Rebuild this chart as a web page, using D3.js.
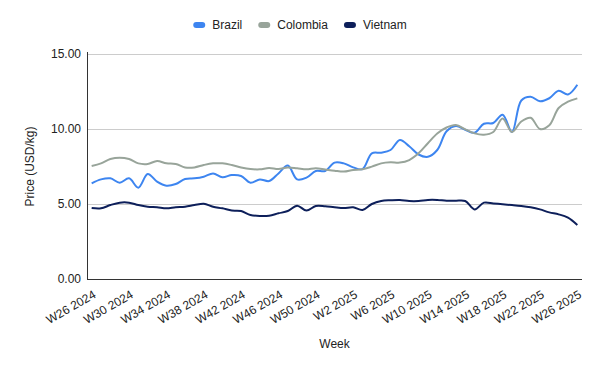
<!DOCTYPE html>
<html>
<head>
<meta charset="utf-8">
<script src="https://cdn.jsdelivr.net/npm/d3@7"></script>
<style>
  body { margin: 0; background: #fff; }
  text { font-family: "Liberation Sans", Arial, sans-serif; }
</style>
</head>
<body>
<div id="chart"></div>
<script>
// weeks W26 2024 .. W26 2025
var weeks = [];
for (var wk = 26; wk <= 52; wk++) weeks.push("W" + wk + " 2024");
for (var wk2 = 1; wk2 <= 26; wk2++) weeks.push("W" + wk2 + " 2025");

var seriesNames = ["Brazil", "Colombia", "Vietnam"];

var brazil = [6.38, 6.64, 6.71, 6.42, 6.71, 6.09, 7.0, 6.49, 6.22, 6.33,
    6.67, 6.71, 6.82, 7.04, 6.78, 6.93, 6.87, 6.42, 6.64, 6.53,
    7.04, 7.56, 6.64, 6.76, 7.2, 7.2, 7.76, 7.71, 7.44, 7.33,
    8.38, 8.42, 8.6, 9.27, 8.85, 8.3, 8.15, 8.6, 9.85, 10.2,
    9.95, 9.75, 10.35, 10.4, 10.95, 9.8, 11.9, 12.15, 11.85, 12.05,
    12.55, 12.3, 12.95];

var colombia = [7.53, 7.71, 8.0, 8.09, 8.0, 7.71, 7.67, 7.87, 7.71, 7.67,
    7.44, 7.44, 7.6, 7.71, 7.71, 7.6, 7.44, 7.33, 7.31, 7.4,
    7.33, 7.44, 7.38, 7.31, 7.38, 7.3, 7.22, 7.16, 7.27, 7.31,
    7.49, 7.71, 7.78, 7.76, 7.93, 8.38, 9.05, 9.7, 10.1, 10.27,
    9.98, 9.71, 9.62, 9.8, 10.7, 9.8, 10.5, 10.75, 10.0, 10.25,
    11.4, 11.82, 12.04];

var vietnam = [4.73, 4.71, 4.93, 5.09, 5.09, 4.93, 4.82, 4.78, 4.71, 4.78,
    4.82, 4.93, 5.02, 4.82, 4.71, 4.56, 4.53, 4.27, 4.2, 4.22,
    4.38, 4.53, 4.89, 4.56, 4.87, 4.85, 4.78, 4.73, 4.78, 4.6,
    5.0, 5.2, 5.25, 5.27, 5.2, 5.2, 5.27, 5.27, 5.22, 5.22,
    5.2, 4.64, 5.09, 5.04, 4.98, 4.93, 4.87, 4.78, 4.64, 4.44,
    4.31, 4.09, 3.6];

var yTicks = [0, 5, 10, 15];
var xTickLabels = weeks.filter(function(d, i) { return i % 4 === 0; });

var colors = ["#3d85f0", "#98a49a", "#0d1f5a"];

var w = 600, h = 371;
var plotLeft = 87, plotRight = 582, plotTop = 54, plotBottom = 279;

var svg = d3.select("#chart").append("svg")
    .attr("width", w)
    .attr("height", h);

var x = d3.scalePoint()
    .domain(weeks)
    .range([plotLeft, plotRight])
    .padding(0.5);

var y = d3.scaleLinear()
    .domain([0, 15])
    .range([plotBottom, plotTop]);

// gridlines
svg.append("g")
    .selectAll("line")
    .data(yTicks.filter(function(d) { return d > 0; }))
    .enter().append("line")
    .attr("x1", plotLeft)
    .attr("x2", plotRight)
    .attr("y1", function(d) { return Math.round(y(d)) + 0.5; })
    .attr("y2", function(d) { return Math.round(y(d)) + 0.5; })
    .attr("stroke", "#cccccc")
    .attr("stroke-width", 1);

// y labels
svg.append("g")
    .selectAll("text")
    .data(yTicks)
    .enter().append("text")
    .attr("x", plotLeft - 6)
    .attr("y", function(d) { return y(d); })
    .attr("dy", "0.35em")
    .attr("text-anchor", "end")
    .attr("font-size", 12)
    .attr("fill", "#222")
    .text(function(d) { return d.toFixed(2); });

// lines
var data = [brazil, colombia, vietnam];
var line = d3.line()
    .x(function(d, i) { return x(weeks[i]); })
    .y(function(d) { return y(d); })
    .curve(d3.curveCatmullRom.alpha(0.5));

svg.append("g")
    .selectAll("path")
    .data(data)
    .enter().append("path")
    .attr("d", line)
    .attr("fill", "none")
    .attr("stroke", function(d, i) { return colors[i]; })
    .attr("stroke-width", 2);

// axes lines
svg.append("line")
    .attr("x1", plotLeft + 0.5).attr("x2", plotLeft + 0.5)
    .attr("y1", plotTop - 2).attr("y2", plotBottom)
    .attr("stroke", "#333");
svg.append("line")
    .attr("x1", plotLeft).attr("x2", plotRight)
    .attr("y1", plotBottom + 0.5).attr("y2", plotBottom + 0.5)
    .attr("stroke", "#333");

// x labels
svg.append("g")
    .selectAll("text")
    .data(xTickLabels)
    .enter().append("text")
    .attr("transform", function(d) { return "translate(" + (x(d) + 5) + "," + 297 + ") rotate(-30)"; })
    .attr("text-anchor", "end")
    .attr("font-size", 12)
    .attr("fill", "#222")
    .text(function(d) { return d; });

// axis titles
svg.append("text")
    .attr("x", (plotLeft + plotRight) / 2)
    .attr("y", 348)
    .attr("text-anchor", "middle")
    .attr("font-size", 12)
    .attr("fill", "#222")
    .text("Week");

svg.append("text")
    .attr("transform", "translate(34," + (plotTop + plotBottom) / 2 + ") rotate(-90)")
    .attr("text-anchor", "middle")
    .attr("font-size", 12)
    .attr("fill", "#222")
    .text("Price (USD/kg)");

// legend
var legend = svg.append("g");
var lx = 0;
seriesNames.forEach(function(name, i) {
    var g = legend.append("g").attr("transform", "translate(" + lx + ",0)");
    g.append("rect")
        .attr("x", 0).attr("y", -3)
        .attr("width", 12).attr("height", 6)
        .attr("rx", 3)
        .attr("fill", colors[i]);
    var t = g.append("text")
        .attr("x", 19)
        .attr("dy", "0.35em")
        .attr("font-size", 12)
        .attr("fill", "#222")
        .text(name);
    lx += 19 + t.node().getComputedTextLength() + 16;
});
lx -= 16;
legend.attr("transform", "translate(" + (300 - lx / 2) + ",25)");
</script>
</body>
</html>
